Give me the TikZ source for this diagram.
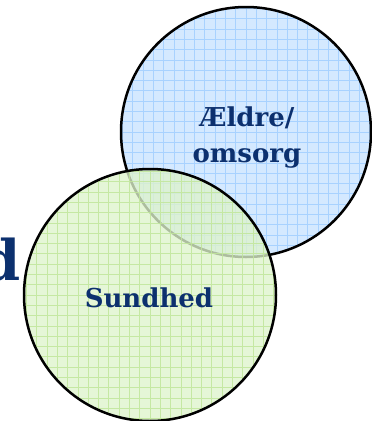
\documentclass[tikz,border=0pt]{standalone}
\usepackage{fontspec}
\setmainfont{DejaVu Serif}
\definecolor{navy}{RGB}{12,48,110}
\definecolor{bluefill}{RGB}{212,233,255}
\definecolor{bluegrid}{RGB}{168,210,255}
\definecolor{greenfill}{RGB}{222,243,204}
\definecolor{greengrid}{RGB}{192,230,155}
\begin{document}
\begin{tikzpicture}[x=1pt,y=-1pt,
  ring/.style={circle, draw=black, line width=2.5pt, inner sep=0pt},
  label/.style={text=navy, font=\bfseries\fontsize{26}{36}\selectfont, align=center, inner sep=0pt}]
\useasboundingbox (0,0) rectangle (372,421);
\node[ring, minimum size=250pt, fill=bluefill,
  path picture={\draw[bluegrid, line width=0.8pt] (path picture bounding box.south west) grid[step=10.3pt] (path picture bounding box.north east);}]
  (blue) at (246,132) {};
\node[ring, minimum size=252pt, fill=greenfill, fill opacity=0.78, draw opacity=1,
  path picture={\draw[greengrid, line width=0.8pt, opacity=0.85] (path picture bounding box.south west) grid[step=10.3pt] (path picture bounding box.north east);}]
  (green) at (150,295) {};
\node[label] (eld) at (247,138) {Ældre/\\omsorg};
\node[label, anchor=base] (sund) at (149,307) {Sundhed};
\node[text=navy, font=\bfseries\fontsize{56}{60}\selectfont, inner sep=0pt, anchor=base east] (bigd) at (21,280) {d};
\end{tikzpicture}
\end{document}
